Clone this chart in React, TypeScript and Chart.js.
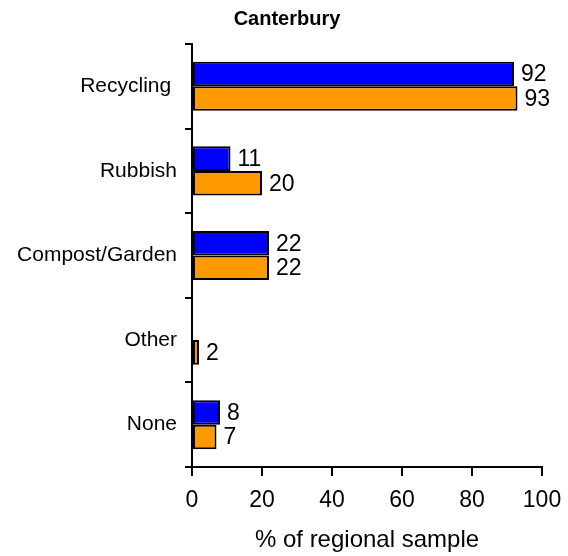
import React, { useEffect, useRef } from 'react';
import { Chart, registerables } from 'chart.js';

Chart.register(...registerables);

const chartTitle = 'Canterbury';
const categories = ['Recycling ', 'Rubbish', 'Compost/Garden', 'Other', 'None'];
const blueValues: (number | null)[] = [92, 11, 22, null, 8];
const orangeValues: (number | null)[] = [93, 20, 22, 2, 7];
const xTickValues = [0, 20, 40, 60, 80, 100];
const xAxisLabel = '% of regional sample';

const FONT_FAMILY = '"Liberation Sans", Arial, Helvetica, sans-serif';
const BLUE = '#0000FF';
const ORANGE = '#FF9900';

const valueLabels = {
  id: 'valueLabels',
  afterDatasetsDraw(chart: any) {
    const ctx = chart.ctx;
    ctx.save();
    ctx.font = `23px ${FONT_FAMILY}`;
    ctx.fillStyle = '#000';
    ctx.textAlign = 'left';
    ctx.textBaseline = 'middle';
    chart.data.datasets.forEach((ds: any, di: number) => {
      const meta = chart.getDatasetMeta(di);
      meta.data.forEach((bar: any, i: number) => {
        const v = ds.data[i];
        if (v === null || v === undefined) return;
        ctx.fillText(String(v), bar.x + 7, bar.y + 1);
      });
    });
    ctx.restore();
  },
};

export default function App() {
  const canvasRef = useRef<HTMLCanvasElement | null>(null);

  useEffect(() => {
    document.body.style.margin = '0';
    const canvas = canvasRef.current;
    if (!canvas) return;
    const yTickFont = { family: FONT_FAMILY, size: 21 };
    const xTickFont = { family: FONT_FAMILY, size: 23 };
    const xTitleFont = { family: FONT_FAMILY, size: 24 };
    const chart = new Chart(canvas, {
      type: 'bar',
      data: {
        labels: categories,
        datasets: [
          {
            label: 'Blue',
            data: blueValues,
            backgroundColor: BLUE,
            borderColor: '#000',
            borderWidth: 2,
            borderSkipped: false,
            categoryPercentage: 0.58,
            barPercentage: 1,
          },
          {
            label: 'Orange',
            data: orangeValues,
            backgroundColor: ORANGE,
            borderColor: '#000',
            borderWidth: 2,
            borderSkipped: false,
            categoryPercentage: 0.58,
            barPercentage: 1,
          },
        ],
      },
      options: {
        indexAxis: 'y',
        animation: false,
        responsive: false,
        maintainAspectRatio: false,
        layout: { padding: { left: 12, right: 6, top: 0, bottom: 0 } },
        plugins: {
          legend: { display: false },
          tooltip: { enabled: false },
          title: {
            display: true,
            text: chartTitle,
            color: '#000',
            font: { family: FONT_FAMILY, size: 20, weight: 'bold' },
            padding: { top: 7, bottom: 13 },
          },
        },
        scales: {
          x: {
            type: 'linear',
            min: 0,
            max: 100,
            afterBuildTicks: (s: any) => {
              s.ticks = xTickValues.map((v) => ({ value: v }));
            },
            ticks: { color: '#000', font: xTickFont, padding: 11, maxRotation: 0 },
            grid: {
              display: true,
              drawOnChartArea: false,
              drawTicks: true,
              tickLength: 9,
              color: '#000',
              lineWidth: 2,
            },
            border: { display: true, color: '#000', width: 2 },
            title: {
              display: true,
              text: xAxisLabel,
              color: '#000',
              font: xTitleFont,
              padding: { top: 0, bottom: 1 },
            },
            afterFit: (s: any) => {
              s.height = 89;
              s.paddingRight = 26;
              s.paddingLeft = 0;
            },
          },
          y: {
            type: 'category',
            ticks: { color: '#000', font: yTickFont, padding: 8 },
            grid: {
              display: true,
              drawOnChartArea: false,
              drawTicks: true,
              tickLength: 7,
              offset: true,
              color: '#000',
              lineWidth: 2,
            },
            border: { display: true, color: '#000', width: 2 },
            afterFit: (s: any) => {
              s.width = 180;
            },
          },
        },
      } as any,
      plugins: [valueLabels],
    });
    return () => chart.destroy();
  }, []);

  return <canvas ref={canvasRef} width={568} height={556} style={{ display: 'block' }} />;
}
